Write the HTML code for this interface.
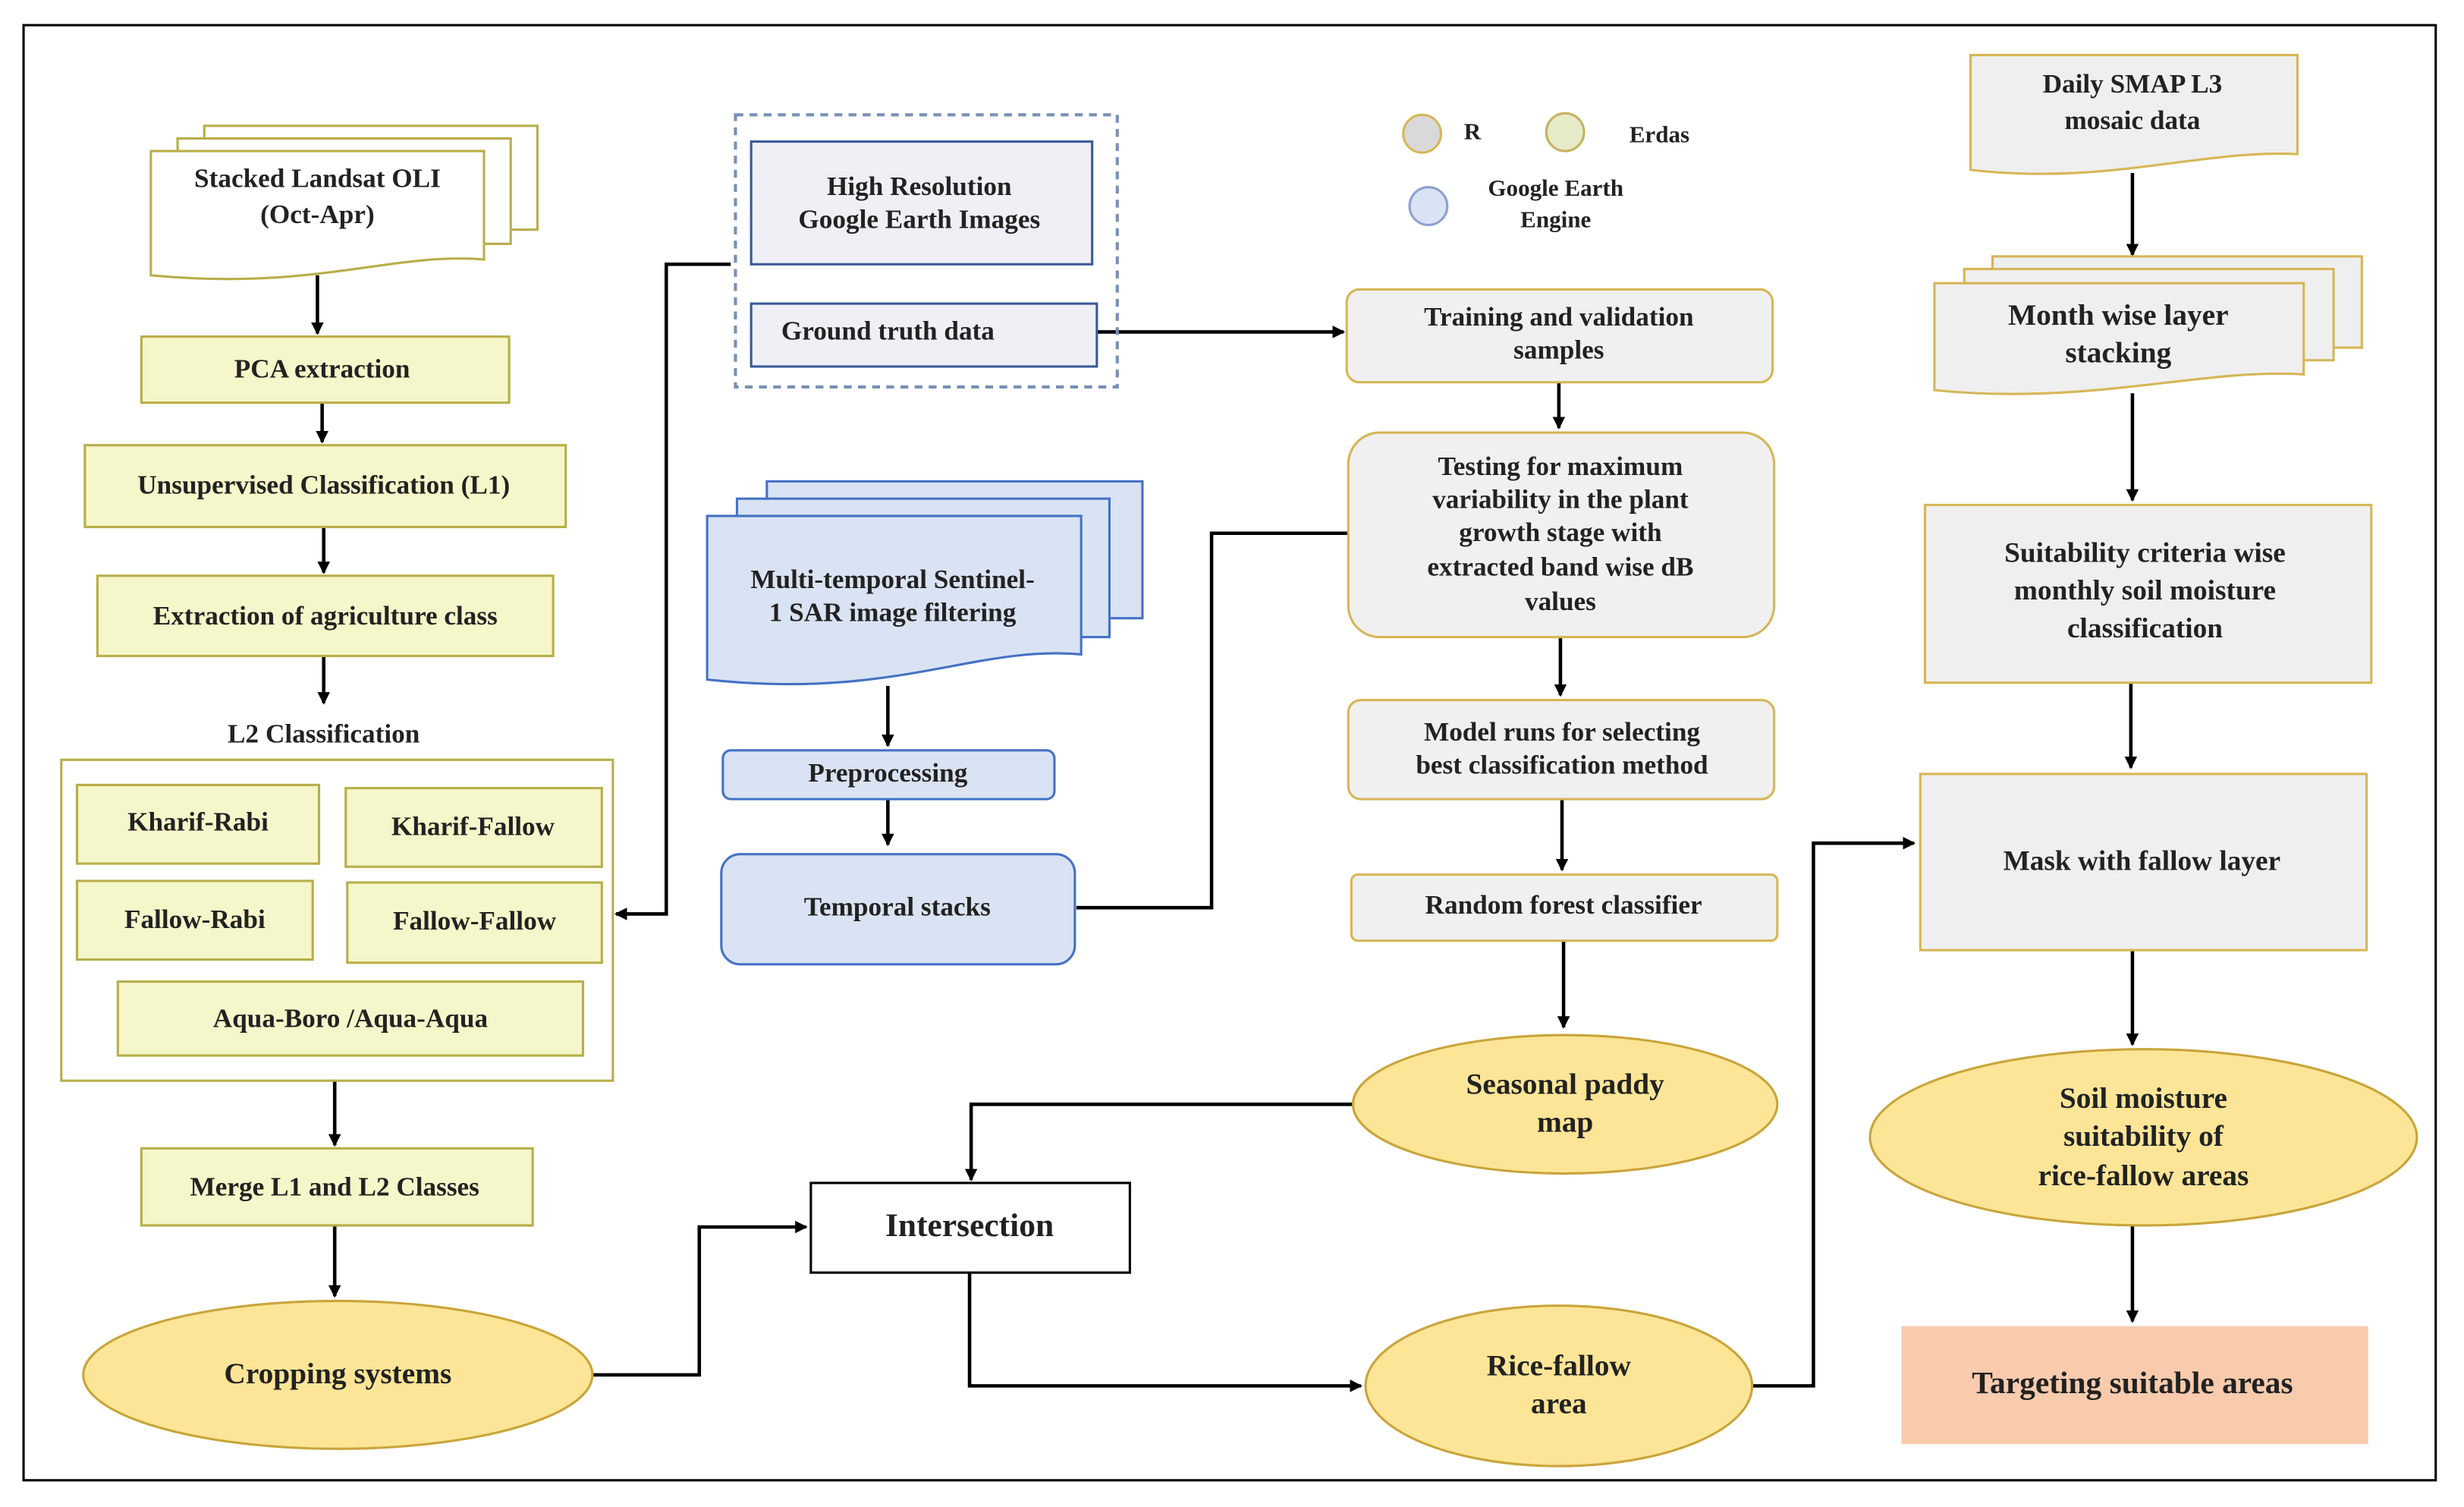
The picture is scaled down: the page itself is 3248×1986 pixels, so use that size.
<!DOCTYPE html>
<html><head><meta charset="utf-8"><style>
html,body{margin:0;padding:0;background:#fff;}
svg{display:block;}
text{font-family:"Liberation Serif",serif;font-weight:bold;fill:#222;text-anchor:middle;dominant-baseline:middle;}
</style></head><body>
<svg width="3248" height="1986" viewBox="0 0 1568 958" preserveAspectRatio="none" xmlns="http://www.w3.org/2000/svg">
<defs><marker id="a" markerWidth="8" markerHeight="8" refX="7" refY="4" orient="auto" markerUnits="userSpaceOnUse"><path d="M0,0 L8,4 L0,8 Z" fill="#000"/></marker></defs>
<rect x="0" y="0" width="1568" height="958" fill="#fff"/>
<rect x="15" y="16" width="1535" height="925" fill="none" stroke="#000" stroke-width="1.5"/>
<g stroke="#000" stroke-width="2.2" fill="none" marker-end="url(#a)">
<path d="M202,175 V212"/><path d="M205,256 V281"/><path d="M206,335 V364"/><path d="M206,417 V447"/>
<path d="M213,687 V728"/><path d="M213,779 V824"/>
<path d="M377,874 H445 V780 H513"/>
<path d="M617,809 V881 H866"/>
<path d="M861,702 H618 V750"/>
<path d="M1115,881 H1154 V536 H1218"/>
<path d="M698,211 H855"/>
<path d="M465,168 H424 V581 H392"/>
<path d="M565,436 V474"/><path d="M565,508 V537"/>
<path d="M992,243 V272"/><path d="M993,405 V442"/><path d="M994,508 V553"/><path d="M995,598 V653"/>
<path d="M1357,110 V162"/><path d="M1357,250 V318"/><path d="M1356,434 V488"/><path d="M1357,604 V664"/><path d="M1357,779 V840"/>
</g>
<path d="M685,577 H771 V339 H858" stroke="#000" stroke-width="2.2" fill="none"/>
<!-- Landsat stacked doc -->
<g fill="#fff" stroke="#b8ae4a" stroke-width="1.5">
<rect x="130" y="80" width="212" height="66"/><rect x="113" y="88" width="212" height="67"/>
<path d="M96,96 H308 V165 C250,160 200,185 96,175 Z"/>
</g>
<text x="202" y="115" font-size="17">Stacked Landsat OLI</text><text x="202" y="138" font-size="17">(Oct-Apr)</text>
<g fill="#f5f6c9" stroke="#b8ae4a" stroke-width="1.5">
<rect x="90" y="214" width="234" height="42"/><rect x="54" y="283" width="306" height="52"/><rect x="62" y="366" width="290" height="51"/>
<rect x="39" y="483" width="351" height="204" fill="#fff"/>
<rect x="49" y="499" width="154" height="50"/><rect x="220" y="501" width="163" height="50"/><rect x="49" y="560" width="150" height="50"/><rect x="221" y="561" width="162" height="51"/><rect x="75" y="624" width="296" height="47"/>
<rect x="90" y="730" width="249" height="49"/>
</g>
<g font-size="17">
<text x="205" y="236">PCA extraction</text><text x="206" y="310">Unsupervised Classification (L1)</text><text x="207" y="393">Extraction of agriculture class</text>
<text x="206" y="468">L2 Classification</text>
<text x="126" y="524">Kharif-Rabi</text><text x="301" y="527">Kharif-Fallow</text><text x="124" y="586">Fallow-Rabi</text><text x="302" y="587">Fallow-Fallow</text><text x="223" y="649">Aqua-Boro /Aqua-Aqua</text>
<text x="213" y="756">Merge L1 and L2 Classes</text>
</g>
<g fill="#fde597" stroke="#c9a43a" stroke-width="1.5">
<ellipse cx="215" cy="874" rx="162" ry="47"/><ellipse cx="996" cy="702" rx="135" ry="44"/><ellipse cx="992" cy="881" rx="123" ry="51"/><ellipse cx="1364" cy="723" rx="174" ry="56"/>
</g>
<g font-size="19">
<text x="215" y="875">Cropping systems</text><text x="996" y="691">Seasonal  paddy</text><text x="996" y="715">map</text>
<text x="992" y="870">Rice-fallow</text><text x="992" y="894">area</text>
<text x="1364" y="700">Soil moisture</text><text x="1364" y="724">suitability  of</text><text x="1364" y="749">rice-fallow areas</text>
</g>
<rect x="516" y="752" width="203" height="57" fill="#fff" stroke="#000" stroke-width="1.5"/>
<text x="617" y="781" font-size="21">Intersection</text>
<!-- dashed group -->
<rect x="468" y="73" width="243" height="173" fill="none" stroke="#7a8fb8" stroke-width="2" stroke-dasharray="5,4"/>
<rect x="478" y="90" width="217" height="78" fill="#eef0f5" stroke="#3a5a9a" stroke-width="1.5"/>
<rect x="478" y="193" width="220" height="40" fill="#eef0f5" stroke="#3a5a9a" stroke-width="1.5"/>
<g font-size="17"><text x="585" y="120">High Resolution</text><text x="585" y="141">Google Earth Images</text><text x="565" y="212">Ground truth data</text></g>
<!-- sentinel -->
<g fill="#dae3f3" stroke="#4472c4" stroke-width="1.5">
<rect x="488" y="306" width="239" height="87"/><rect x="469" y="317" width="237" height="88"/>
<path d="M450,328 H688 V416 C620,410 570,445 450,432 Z"/>
<rect x="460" y="477" width="211" height="31" rx="5"/><rect x="459" y="543" width="225" height="70" rx="12"/>
</g>
<g font-size="17"><text x="568" y="370">Multi-temporal Sentinel-</text><text x="568" y="391">1 SAR image filtering</text><text x="565" y="493">Preprocessing</text><text x="571" y="578">Temporal stacks</text></g>
<!-- legend -->
<circle cx="905" cy="85" r="12" fill="#d9d9d9" stroke="#d6b656" stroke-width="1.5"/>
<circle cx="996" cy="84" r="12" fill="#e5ebc8" stroke="#c8b060" stroke-width="1.5"/>
<circle cx="909" cy="131" r="12" fill="#dae3f3" stroke="#8aa0d0" stroke-width="1.5"/>
<g font-size="15"><text x="937" y="85">R</text><text x="1056" y="87">Erdas</text><text x="990" y="121">Google Earth</text><text x="990" y="141">Engine</text></g>
<!-- middle right -->
<g fill="#f0f0f0" stroke="#d6b656" stroke-width="1.5">
<rect x="857" y="184" width="271" height="59" rx="8"/><rect x="858" y="275" width="271" height="130" rx="20"/><rect x="858" y="445" width="271" height="63" rx="8"/><rect x="860" y="556" width="271" height="42" rx="4"/>
</g>
<g font-size="17">
<text x="992" y="203">Training and validation</text><text x="992" y="224">samples</text>
<text x="993" y="298">Testing for maximum</text><text x="993" y="319">variability in the plant</text><text x="993" y="340">growth stage with</text><text x="993" y="362">extracted band wise dB</text><text x="993" y="384">values</text>
<text x="994" y="467">Model runs for selecting</text><text x="994" y="488">best classification method</text>
<text x="995" y="577">Random forest classifier</text>
</g>
<!-- right column -->
<g fill="#efefef" stroke="#d6b656" stroke-width="1.5">
<path d="M1254,35 H1462 V98 C1400,95 1340,118 1254,108 Z"/>
<rect x="1268" y="163" width="235" height="58"/><rect x="1250" y="171" width="235" height="58"/>
<path d="M1231,180 H1466 V238 C1400,234 1330,258 1231,248 Z"/>
<rect x="1225" y="321" width="284" height="113"/><rect x="1222" y="492" width="284" height="112"/>
</g>
<rect x="1210" y="843" width="297" height="75" fill="#f8cbad"/>
<g font-size="17"><text x="1357" y="55">Daily SMAP L3</text><text x="1357" y="78">mosaic data</text></g>
<g font-size="19"><text x="1348" y="202">Month wise layer</text><text x="1348" y="226">stacking</text></g>
<g font-size="18"><text x="1365" y="353">Suitability criteria wise</text><text x="1365" y="377">monthly soil moisture</text><text x="1365" y="401">classification</text>
<text x="1363" y="549">Mask with fallow layer</text></g>
<text x="1357" y="881" font-size="20">Targeting suitable areas</text>
</svg>
</body></html>
